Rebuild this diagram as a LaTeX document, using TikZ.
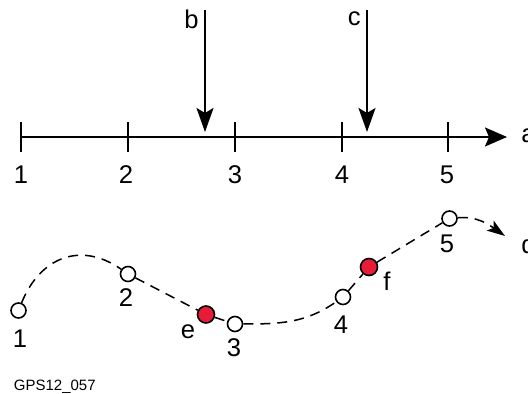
\documentclass[tikz,border=0pt]{standalone}
\usepackage{fontspec}
\setmainfont{Liberation Sans}
\usetikzlibrary{arrows.meta,positioning}

\definecolor{markred}{RGB}{232,28,56}

\begin{document}
\begin{tikzpicture}[
    x=0.5pt, y=0.5pt,
    lbl/.style={font=\fontsize{12.8}{15}\selectfont, inner sep=1pt},
    tick/.style={line width=1pt},
    axis/.style={line width=1pt, -{Stealth[length=11pt,width=9.5pt,inset=2pt]}},
    drop/.style={line width=1pt, -{Stealth[length=12pt,width=8.5pt,inset=2.5pt]}},
    track/.style={line width=0.75pt, dash pattern=on 5pt off 3.5pt},
    trackend/.style={track, -{Stealth[length=9pt,width=6pt,inset=2pt]}},
    epoch/.style={circle, draw=black, fill=white, line width=0.8pt, minimum size=7.5pt, inner sep=0pt},
    event/.style={circle, draw=black, fill=markred, line width=0.8pt, minimum size=8.5pt, inner sep=0pt}
]
\useasboundingbox (0,0) rectangle (528,394);

% Time axis
\coordinate (t1) at (21,257);
\coordinate (t2) at (128,257);
\coordinate (t3) at (235,257);
\coordinate (t4) at (342,257);
\coordinate (t5) at (448,257);
\coordinate (axisend) at (507,257);
\draw[axis] (t1) -- (axisend);
\node[lbl, anchor=west, inner sep=0pt] (alabel) at (521,258) {a};

\draw[tick] (t1) +(0,15) -- +(0,-15);
\draw[tick] (t2) +(0,15) -- +(0,-15);
\draw[tick] (t3) +(0,15) -- +(0,-15);
\draw[tick] (t4) +(0,15) -- +(0,-15);
\draw[tick] (t5) +(0,15) -- +(0,-15);

\node[lbl] (n1) at (21,219) {1};
\node[lbl] (n2) at (126,219) {2};
\node[lbl] (n3) at (235,219) {3};
\node[lbl] (n4) at (342,219) {4};
\node[lbl] (n5) at (447,219) {5};

% Events on the axis
\coordinate (btop) at (205,384);
\coordinate (btip) at (205,262);
\coordinate (ctop) at (367,384);
\coordinate (ctip) at (367,262);
\draw[drop] (btop) -- (btip);
\draw[drop] (ctop) -- (ctip);
\node[lbl, anchor=east] (blabel) at (201,375) {b};
\node[lbl, anchor=east] (clabel) at (363,375) {c};

% Track
\node[epoch] (p1) at (18.5,83.5) {};
\node[epoch] (p2) at (128,120) {};
\node[event] (e) at (206,79.5) {};
\node[epoch] (p3) at (235,70) {};
\node[epoch] (p4) at (343,97) {};
\node[event] (f) at (369,127) {};
\node[epoch] (p5) at (449.5,175.5) {};
\coordinate (trackend) at (505,158);

\node[lbl] (l1) at (20,55) {1};
\node[lbl] (l2) at (126,96) {2};
\node[lbl] (le) at (188,62) {e};
\node[lbl] (l3) at (234,46) {3};
\node[lbl] (l4) at (341,69) {4};
\node[lbl] (lf) at (387,113) {f};
\node[lbl] (l5) at (447,150) {5};
\node[lbl, anchor=west, inner sep=0pt] (ld) at (521,150) {d};

\draw[track] (p1) to[out=68, in=145, looseness=1.2] (p2);
\draw[track] (p2) -- (e);
\draw[track] (e) -- (p3);
\draw[track] (p3) to[out=0, in=215] (p4);
\draw[track] (p4) -- (f);
\draw[track] (f) -- (p5);
\draw[trackend] (p5) to[out=5, in=145] (trackend);

\node[font=\fontsize{7.5}{9}\selectfont, anchor=west, inner sep=0pt] (figid) at (13.5,7.5) {GPS12\_057};

\end{tikzpicture}
\end{document}
